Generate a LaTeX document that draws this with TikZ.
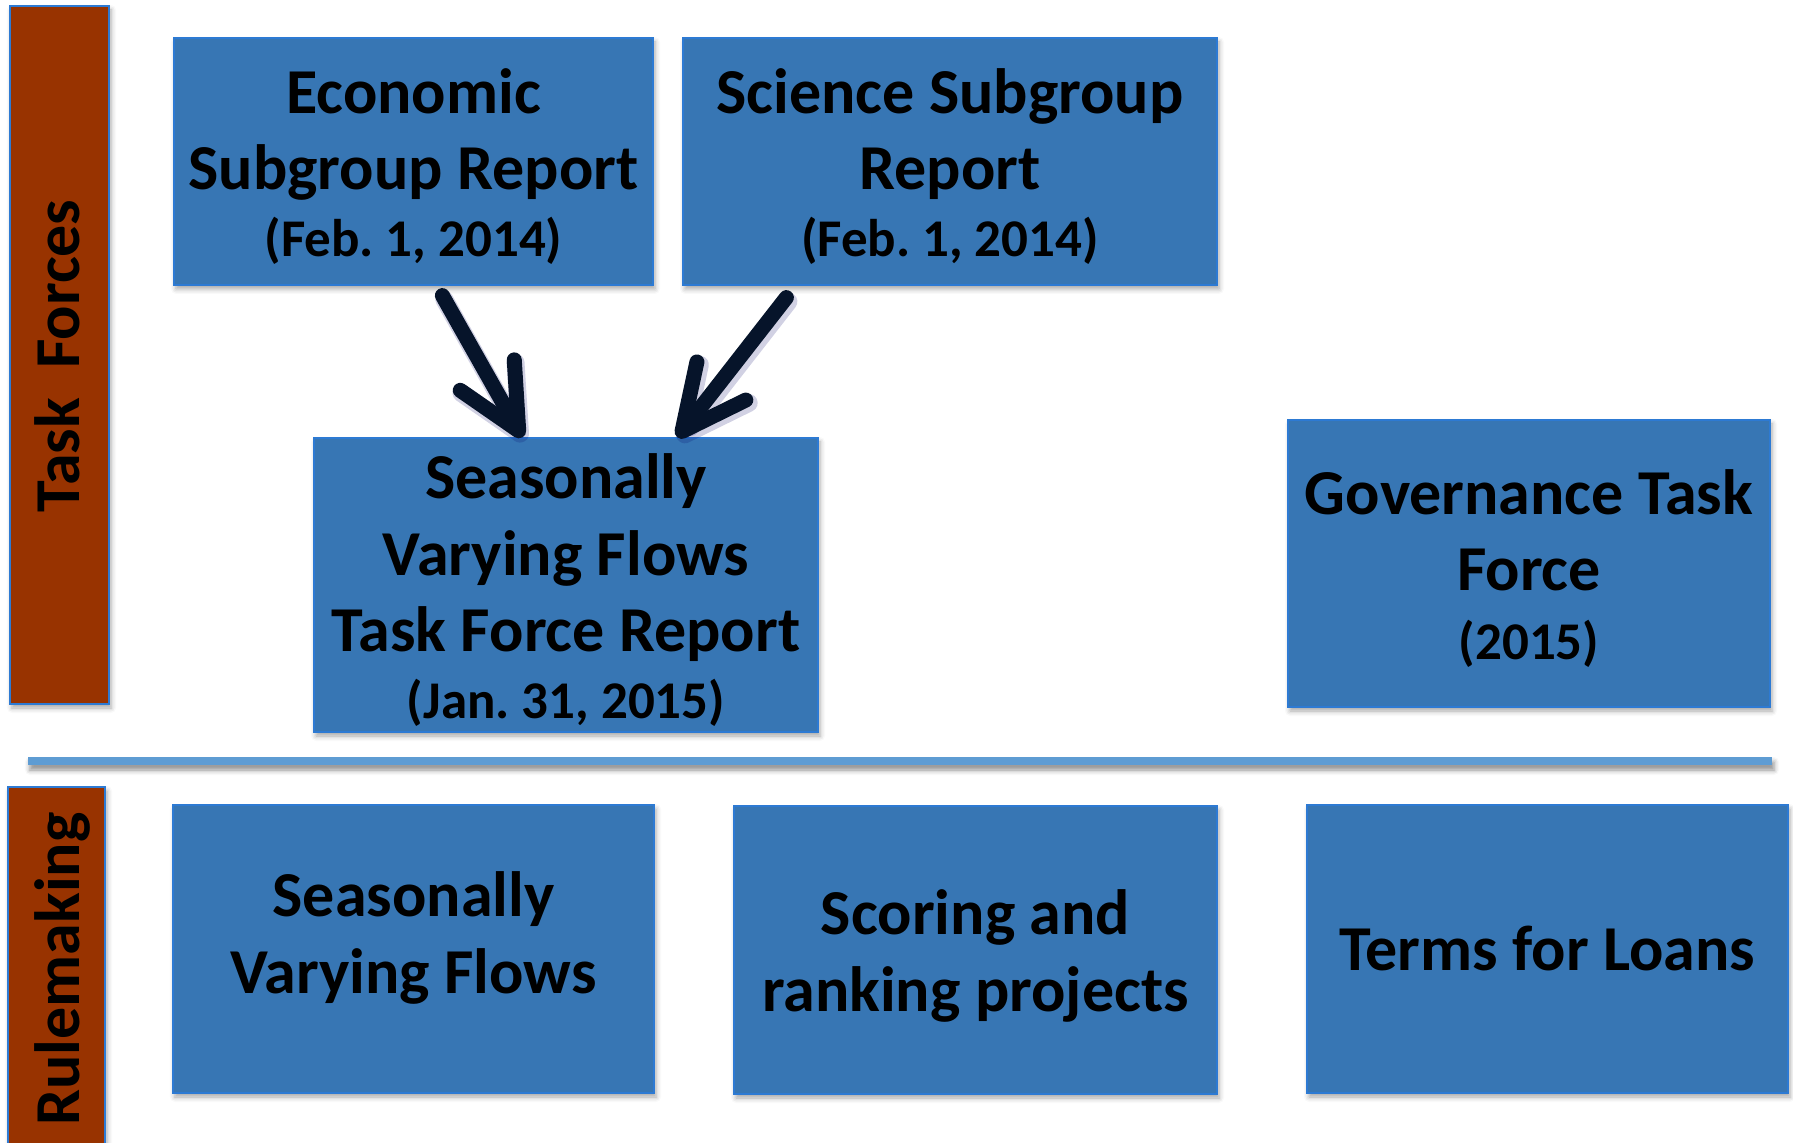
\documentclass[tikz,border=0pt]{standalone}
\usepackage{fontspec}
\setmainfont{Carlito}
\usetikzlibrary{arrows.meta,calc,shadows.blur}
\frenchspacing

\definecolor{boxblue}{HTML}{3776B4}
\definecolor{edgeblue}{HTML}{2D7AD3}
\definecolor{rust}{HTML}{983300}
\definecolor{rulerblue}{HTML}{5E9CD3}
\definecolor{ink}{HTML}{06142A}

\newcommand{\bigfont}{\fontsize{32bp}{38.3bp}\selectfont\bfseries}
\newcommand{\datefont}{\fontsize{26.5bp}{32bp}\selectfont\bfseries}

\begin{document}
\begin{tikzpicture}[x=0.5bp,y=-0.5bp,
  softshadow/.style={blur shadow={shadow xshift=1bp, shadow yshift=-2bp,
      shadow blur radius=2.5bp, shadow opacity=35}},
  card/.style={rectangle, fill=boxblue, draw=edgeblue, line width=0.6bp,
      inner sep=0pt, softshadow},
  cardtext/.style={inner sep=0pt, align=center, font=\bigfont},
  band/.style={rectangle, fill=rust, draw=edgeblue, line width=0.6bp,
      inner sep=0pt, softshadow},
  bandlabel/.style={rotate=90, anchor=base, inner sep=0pt, font=\bigfont},
  feed/.style={draw=ink, line width=7.5bp, line cap=round, line join=round,
      -{Straight Barb[length=32bp, width=31bp, round]}},
  feedshade/.style={draw=black!60!blue, opacity=0.18, line width=9bp,
      line cap=round, line join=round,
      -{Straight Barb[length=32bp, width=31bp, round]}}
]
\useasboundingbox (0,0) rectangle (1793,1143);

% side bands
\node[band, minimum width=49.5bp, minimum height=349bp] (tfband) at (59.5,355) {};
\node[bandlabel] (tflabel) at (80,356) {Task\ \ Forces};
\node[band, minimum width=48.5bp, minimum height=182bp] (rmband) at (56.5,969) {};
\node[bandlabel] (rmlabel) at (80,969) {Rulemaking};

% separator between the two rows
\node[rectangle, fill=rulerblue, inner sep=0pt, minimum width=872bp,
      minimum height=4bp, blur shadow={shadow xshift=1bp, shadow yshift=-2.5bp,
      shadow blur radius=2.5bp, shadow opacity=45}] (divider) at (900,761) {};

% task force reports
\node[card, minimum width=239.5bp, minimum height=123.5bp] (eco) at (413.5,161.5) {};
\node[cardtext] (ecotext) at ($(eco.center)+(0,5)$)
  {Economic\\Subgroup Report\\[-5bp]{\datefont (Feb. 1, 2014)}};
\node[card, minimum width=267bp, minimum height=123.5bp] (sci) at (950,161.5) {};
\node[cardtext] (scitext) at ($(sci.center)+(0,5)$)
  {Science Subgroup\\Report\\[-5bp]{\datefont (Feb. 1, 2014)}};
\node[card, minimum width=252bp, minimum height=147bp] (svftf) at (566,585) {};
\node[cardtext] (svftftext) at ($(svftf.center)+(0,5)$)
  {Seasonally\\Varying Flows\\Task Force Report\\[-5bp]{\datefont (Jan. 31, 2015)}};
\node[card, minimum width=241bp, minimum height=143.5bp] (gov) at (1529,563.5) {};
\node[cardtext] (govtext) at ($(gov.center)+(0,5)$)
  {Governance Task\\Force\\[-4bp]{\datefont (2015)}};

% rulemaking topics
\node[card, minimum width=240.5bp, minimum height=144bp] (svf) at (413.5,949) {};
\node[cardtext] (svftext) at ($(svf.center)+(0,-11)$) {Seasonally\\Varying Flows};
\node[card, minimum width=241.5bp, minimum height=144bp] (score) at (975.5,950) {};
\node[cardtext] (scoretext) at ($(score.center)+(0,6)$) {Scoring and\\ranking projects};
\node[card, minimum width=240.5bp, minimum height=144bp] (loans) at (1547.5,949) {};
\node[cardtext] (loanstext) at (loans.center) {Terms for Loans};

% arrows from the subgroup reports into the task force report
\coordinate (ecoout) at ($(eco.south west)+(269,10)$);
\coordinate (sciout) at ($(sci.south west)+(104,12)$);
\coordinate (svfinL) at ($(svftf.north west)+(209,0)$);
\coordinate (svfinR) at ($(svftf.north west)+(364,0)$);

\draw[feedshade] ($(ecoout)+(2,4)$) -- ($(svfinL)+(2,4)$);
\draw[feedshade] ($(sciout)+(2,4)$) -- ($(svfinR)+(2,4)$);
\draw[feed] (ecoout) -- (svfinL);
\draw[feed] (sciout) -- (svfinR);
\end{tikzpicture}
\end{document}
